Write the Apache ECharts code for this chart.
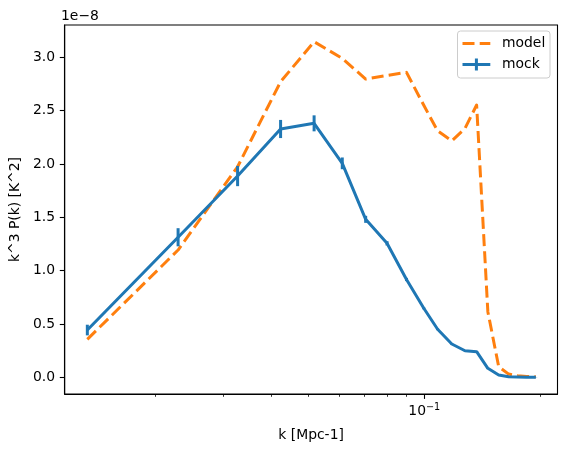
<!DOCTYPE html>
<html>
<head>
<meta charset="utf-8">
<title>k^3 P(k)</title>
<script src="https://cdn.jsdelivr.net/npm/echarts/dist/echarts.min.js"></script>
<style>
  html, body { margin: 0; padding: 0; background: #fff; }
  #main { width: 567px; height: 452px; }
</style>
</head>
<body>
<div id="main"></div>
<script>
// k bins [Mpc-1]
var kValues = [0.0133, 0.0229, 0.0327, 0.0423, 0.0517, 0.0612, 0.0704, 0.0800, 0.0899, 0.0997,
               0.1083, 0.1179, 0.1276, 0.1368, 0.1463, 0.1561, 0.1657, 0.1750, 0.1845, 0.1950];
// k^3 P(k), in units of 1e-8 K^2
var mockValues = [0.443, 1.313, 1.887, 2.328, 2.381, 2.006, 1.481, 1.256, 0.917, 0.647,
                  0.450, 0.312, 0.249, 0.240, 0.084, 0.022, 0.006, 0.003, 0.001, 0.000];
var mockErrors = [0.050, 0.085, 0.095, 0.085, 0.075, 0.055, 0.033, 0.020, 0.015, 0.010,
                  0.008, 0.006, 0.005, 0.004, 0.003, 0.002, 0.001, 0.001, 0.001, 0.001];
var modelValues = [0.356, 1.193, 1.974, 2.771, 3.146, 2.990, 2.796, 2.830, 2.859, 2.550,
                   2.310, 2.217, 2.334, 2.553, 0.615, 0.100, 0.030, 0.015, 0.008, 0.005];
// tick positions
var xMinorTicks = [0.02, 0.03, 0.04, 0.05, 0.06, 0.07, 0.08, 0.09, 0.2];
var xMajorTicks = [0.1];
var yTicks = [0.0, 0.5, 1.0, 1.5, 2.0, 2.5, 3.0];

var FONT = 'DejaVu Sans';
var BLUE = '#1f77b4';
var ORANGE = '#ff7f0e';
var LW = 3;

var chart = echarts.init(document.getElementById('main'), null, { renderer: 'canvas' });

var modelData = [];
var mockData = [];
var errData = [];
for (var i = 0; i < kValues.length; i++) {
  modelData.push([kValues[i], modelValues[i]]);
  mockData.push([kValues[i], mockValues[i]]);
  errData.push([kValues[i], mockValues[i] - mockErrors[i], mockValues[i] + mockErrors[i]]);
}

var xRange = { min: 0.011614, max: 0.2220 };

chart.setOption({
  animation: false,
  textStyle: { fontFamily: FONT },
  grid: {
    left: 61, right: 9.5, top: 25, bottom: 58,
    show: true, borderColor: '#000', borderWidth: 1.1, backgroundColor: 'transparent'
  },
  xAxis: [{
    type: 'log',
    logBase: 10,
    min: xRange.min,
    max: xRange.max,
    name: 'k [Mpc-1]',
    nameLocation: 'middle',
    nameGap: 34,
    nameTextStyle: { color: '#000', fontSize: 13.9, fontFamily: FONT },
    axisLine: { onZero: false, lineStyle: { color: '#000', width: 1.1 } },
    axisTick: { show: true, customValues: xMinorTicks, length: 2.8, lineStyle: { color: '#000', width: 0.8 } },
    axisLabel: { show: false },
    splitLine: { show: false },
    minorTick: { show: false }
  }, {
    // major tick + label at 10^-1
    type: 'log',
    logBase: 10,
    position: 'bottom',
    min: xRange.min,
    max: xRange.max,
    axisLine: { show: false, onZero: false },
    axisTick: { show: true, customValues: xMajorTicks, length: 4.9, lineStyle: { color: '#000', width: 1.1 } },
    axisLabel: {
      show: true,
      customValues: xMajorTicks,
      margin: 8,
      formatter: function () { return '{b|10}{s|\u22121}'; },
      rich: {
        b: { fontSize: 13.9, fontFamily: FONT, color: '#000' },
        s: { fontSize: 9.7, fontFamily: FONT, color: '#000', padding: [0, 0, 9, 0] }
      }
    },
    splitLine: { show: false }
  }],
  yAxis: {
    type: 'value',
    min: -0.1566,
    max: 3.303,
    name: 'k^3 P(k) [K^2]',
    nameLocation: 'middle',
    nameGap: 39,
    nameTextStyle: { color: '#000', fontSize: 13.9, fontFamily: FONT },
    axisLine: { show: true, lineStyle: { color: '#000', width: 1.1 } },
    axisTick: { show: true, customValues: yTicks, length: 4.9, lineStyle: { color: '#000', width: 1.1 } },
    axisLabel: {
      customValues: yTicks,
      margin: 9.7,
      color: '#000',
      fontSize: 13.9,
      fontFamily: FONT,
      formatter: function (v) { return v.toFixed(1); }
    },
    splitLine: { show: false }
  },
  series: [{
    name: 'model',
    type: 'line',
    data: modelData,
    symbol: 'none',
    z: 2,
    lineStyle: { color: ORANGE, width: LW, type: [12, 5.2], join: 'round' }
  }, {
    name: 'mock',
    type: 'line',
    data: mockData,
    symbol: 'none',
    z: 3,
    lineStyle: { color: BLUE, width: LW, join: 'round', cap: 'butt' }
  }, {
    name: 'mock errors',
    type: 'custom',
    data: errData,
    encode: { x: 0, y: [1, 2] },
    z: 3,
    renderItem: function (params, api) {
      var lo = api.coord([api.value(0), api.value(1)]);
      var hi = api.coord([api.value(0), api.value(2)]);
      return {
        type: 'line',
        shape: { x1: lo[0], y1: lo[1], x2: hi[0], y2: hi[1] },
        style: { stroke: BLUE, lineWidth: LW }
      };
    }
  }],
  graphic: [
    // offset text of the y axis
    { type: 'text', left: 61, top: 9, z: 100,
      style: { text: '1e\u22128', font: '13.9px "DejaVu Sans"', fill: '#000' } },
    // legend box
    { type: 'rect', z: 100,
      shape: { x: 457.5, y: 31, width: 92.5, height: 47, r: 3 },
      style: { fill: 'rgba(255,255,255,0.8)', stroke: '#cccccc', lineWidth: 1 } },
    { type: 'line', z: 101,
      shape: { x1: 462.5, y1: 43.5, x2: 490.3, y2: 43.5 },
      style: { stroke: ORANGE, lineWidth: LW, lineDash: [12, 5.2] } },
    { type: 'text', z: 101, x: 502, y: 43.5,
      style: { text: 'model', font: '13.9px "DejaVu Sans"', fill: '#000', textVerticalAlign: 'middle' } },
    { type: 'line', z: 101,
      shape: { x1: 462.5, y1: 64.5, x2: 490.3, y2: 64.5 },
      style: { stroke: BLUE, lineWidth: LW } },
    { type: 'line', z: 101,
      shape: { x1: 476.4, y1: 58.5, x2: 476.4, y2: 70.5 },
      style: { stroke: BLUE, lineWidth: LW } },
    { type: 'text', z: 101, x: 502, y: 64.5,
      style: { text: 'mock', font: '13.9px "DejaVu Sans"', fill: '#000', textVerticalAlign: 'middle' } }
  ]
});
</script>
</body>
</html>
